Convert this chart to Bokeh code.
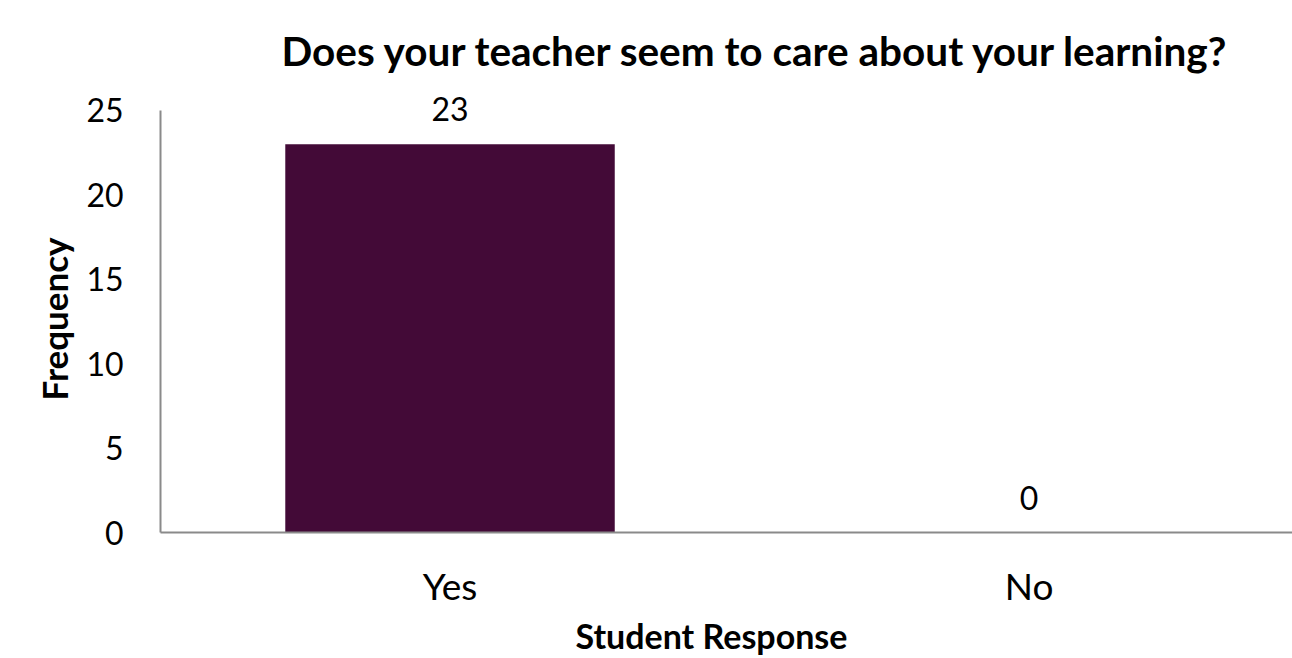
from bokeh.plotting import figure
from bokeh.models import ColumnDataSource, Range1d, FixedTicker, LabelSet, Title
from bokeh.core.properties import value
from bokeh.embed import file_html
from bokeh.resources import INLINE

# ---- data ----
categories = ["Yes", "No"]
frequencies = [23, 0]
y_ticks = [0, 5, 10, 15, 20, 25]
title_text = "Does your teacher seem to care about your learning?"
x_label = "Student Response"
y_label = "Frequency"

FONT = "Lato"
BAR_COLOR = "#430A37"
AXIS_COLOR = "#8a8a8a"

positions = [i + 0.5 for i in range(len(categories))]
source = ColumnDataSource(dict(
    x=positions,
    top=frequencies,
    label=[str(v) for v in frequencies],
))

p = figure(
    width=1292, height=658,
    output_backend="svg", toolbar_location=None,
    x_range=Range1d(0, 1.955), y_range=Range1d(0, 27.014),
    min_border_left=160, min_border_right=0,
    min_border_top=76, min_border_bottom=126,
)
p.outline_line_color = None
p.xgrid.visible = False
p.ygrid.visible = False
p.background_fill_color = "white"
p.border_fill_color = "white"

p.vbar(x="x", top="top", width=0.569, bottom=0, source=source,
       fill_color=BAR_COLOR, line_color=None)

labels = LabelSet(x="x", y="top", text="label", source=source,
                  text_align="center", text_baseline="alphabetic",
                  y_offset=23, text_font=value(FONT), text_font_size="32px",
                  text_color="black")
p.add_layout(labels)

# axes
xa = p.xaxis[0]
xa.ticker = FixedTicker(ticks=positions)
xa.major_label_overrides = {pos: cat for pos, cat in zip(positions, categories)}
xa.major_tick_in = 0
xa.major_tick_out = 0
xa.minor_tick_in = 0
xa.minor_tick_out = 0
xa.major_label_standoff = 30
xa.major_label_text_font = FONT
xa.major_label_text_font_size = "37px"
xa.major_label_text_color = "black"
xa.axis_line_color = AXIS_COLOR
xa.axis_line_width = 2

ya = p.yaxis[0]
ya.ticker = FixedTicker(ticks=y_ticks)
ya.bounds = (y_ticks[0], y_ticks[-1])
ya.major_tick_in = 0
ya.major_tick_out = 0
ya.minor_tick_in = 0
ya.minor_tick_out = 0
ya.major_label_standoff = 37
ya.major_label_text_font = FONT
ya.major_label_text_font_size = "32px"
ya.major_label_text_color = "black"
ya.axis_line_color = AXIS_COLOR
ya.axis_line_width = 2

xtitle = Title(text=x_label, align="left", offset=415,
               text_font=FONT, text_font_style="bold", text_font_size="34px",
               text_color="black", standoff=4)
p.add_layout(xtitle, "below")

ytitle = Title(text=y_label, align="left", offset=132,
               text_font=FONT, text_font_style="bold", text_font_size="35px",
               text_color="black", standoff=18)
p.add_layout(ytitle, "left")

t = Title(text=title_text, align="left", offset=121,
          text_font=FONT, text_font_style="bold", text_font_size="40.5px",
          text_color="black", standoff=4)
p.add_layout(t, "above")

open("out.html", "w").write(file_html(p, INLINE))
